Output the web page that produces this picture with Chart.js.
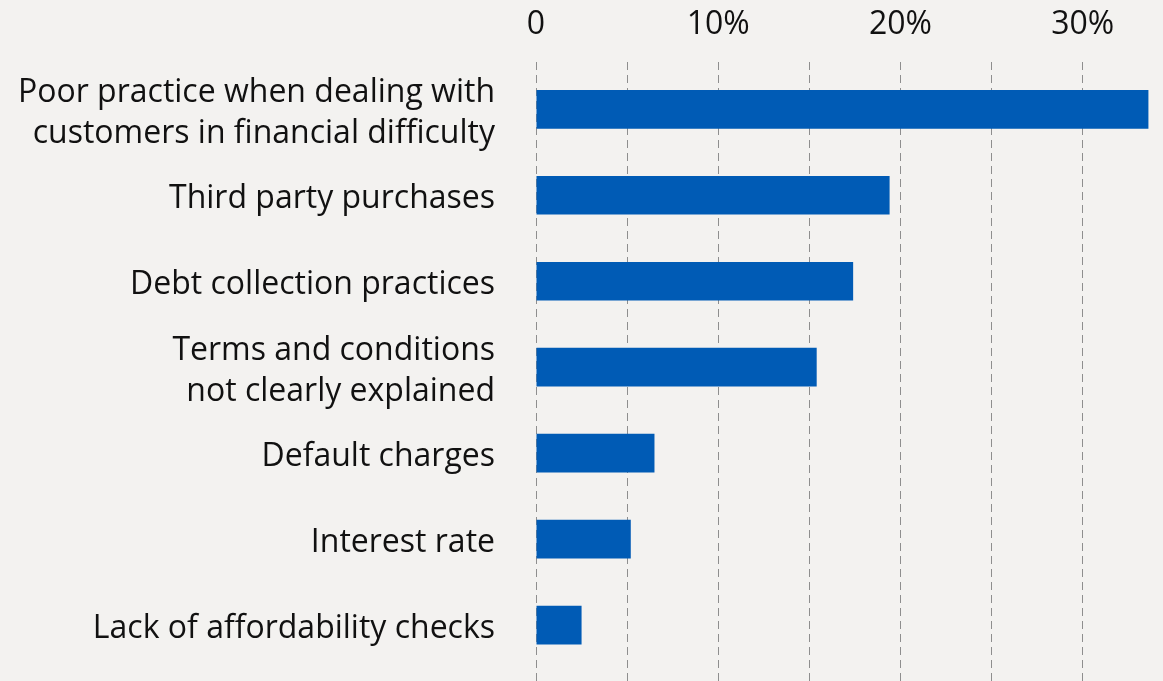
<!DOCTYPE html>
<html>
<head>
<meta charset="utf-8">
<script src="https://cdn.jsdelivr.net/npm/chart.js@4/dist/chart.umd.min.js"></script>
<style>
  html, body { margin: 0; padding: 0; background: #f3f2f0; }
  #wrap { width: 1163px; height: 681px; position: relative; }
</style>
</head>
<body>
<div id="wrap"><canvas id="chart"></canvas></div>
<script>
// Complaint categories (multi-line labels as arrays)
const categories = [
  ["Poor practice when dealing with", "customers in financial difficulty"],
  "Third party purchases",
  "Debt collection practices",
  ["Terms and conditions", "not clearly explained"],
  "Default charges",
  "Interest rate",
  "Lack of affordability checks"
];
// Share of complaints, %
const shares = [33.6, 19.4, 17.4, 15.4, 6.5, 5.2, 2.5];
// Dashed grid every 5%, labels every 10%
const gridSteps = [0, 5, 10, 15, 20, 25, 30];
const labelledTicks = [0, 10, 20, 30];

const FONT = "'Open Sans', 'Noto Sans', sans-serif";

new Chart(document.getElementById('chart'), {
  type: 'bar',
  data: {
    datasets: [{
      data: shares.map((v, i) => ({ x: v, y: i })),
      backgroundColor: '#005bb5',
      borderWidth: 0,
      barPercentage: 0.9,
      categoryPercentage: 0.5
    }]
  },
  options: {
    indexAxis: 'y',
    responsive: true,
    maintainAspectRatio: false,
    animation: false,
    layout: { padding: 0 },
    plugins: { legend: { display: false }, tooltip: { enabled: false } },
    scales: {
      x: {
        type: 'linear',
        position: 'top',
        min: 0,
        max: 34.4,
        afterBuildTicks: s => { s.ticks = gridSteps.map(v => ({ value: v })); },
        afterFit: s => { s.height = 62; s.paddingLeft = 0; s.paddingRight = 0; },
        grid: { color: '#8e8e8e', lineWidth: 1, drawTicks: false },
        border: { display: false, dash: [8, 5] },
        ticks: {
          padding: 18,
          color: '#111',
          font: { family: FONT, size: 32 },
          maxRotation: 0,
          callback: v => labelledTicks.includes(v) ? (v === 0 ? '0' : v + '%') : ''
        }
      },
      y: {
        type: 'linear',
        reverse: true,
        offset: false,
        min: -0.55,
        max: 6.65,
        afterBuildTicks: s => { s.ticks = categories.map((_, i) => ({ value: i })); },
        afterFit: s => { s.width = 536; s.paddingTop = 0; s.paddingBottom = 0; },
        grid: { display: false, drawTicks: false, offset: false },
        border: { display: false },
        ticks: {
          padding: 41,
          labelOffset: 4,
          color: '#111',
          font: { family: FONT, size: 32, lineHeight: 1.28 },
          callback: v => categories[v]
        }
      }
    }
  }
});
</script>
</body>
</html>
